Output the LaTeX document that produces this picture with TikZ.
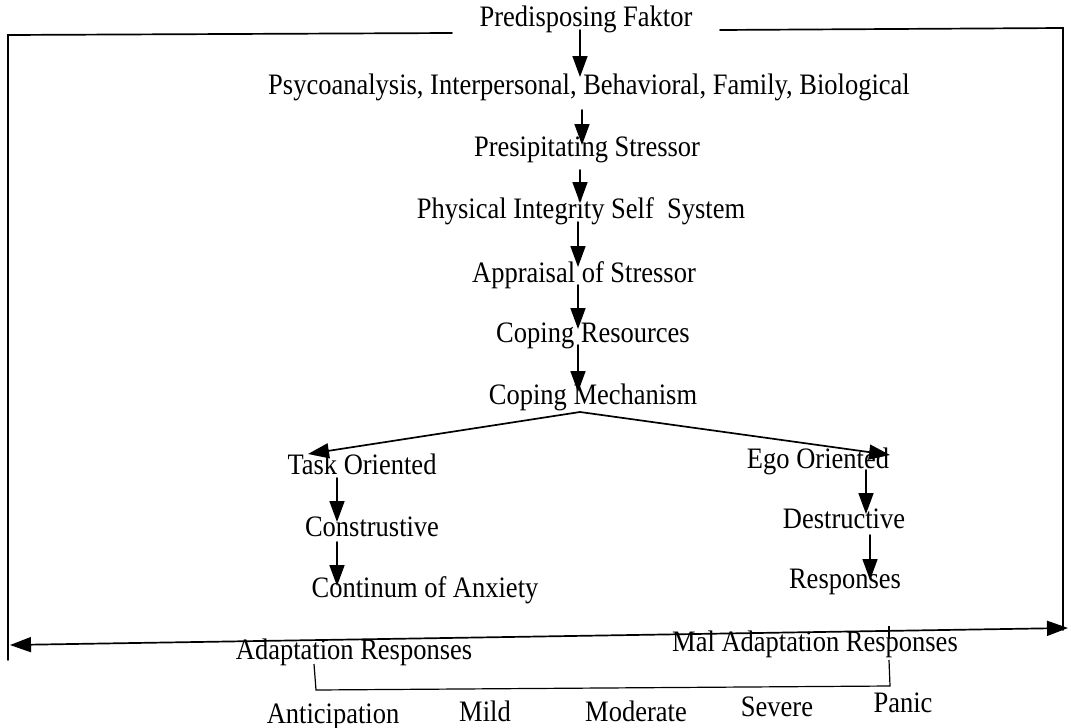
\documentclass[tikz,border=0pt]{standalone}
\usepackage{fontspec}
\setmainfont{Liberation Serif}
\usetikzlibrary{arrows.meta}
\newcommand{\tx}[1]{\scalebox{1}[1.12]{#1}}
\begin{document}
\begin{tikzpicture}[x=1pt,y=-1pt,
  lbl/.style={inner sep=1pt, font=\fontsize{26.5}{30}\selectfont},
  ln/.style={line width=1.7pt, line cap=round},
  arr/.style={ln, -{Triangle[length=21pt,width=15pt]}},
  darr/.style={ln, {Triangle[length=21pt,width=15pt]}-{Triangle[length=21pt,width=15pt]}}]
\useasboundingbox (0,0) rectangle (1071,728);
% text nodes
\node[lbl] (pf)   at (586,19)  {\tx{Predisposing Faktor}};
\node[lbl] (psy)  at (589,87)  {\tx{Psycoanalysis, Interpersonal, Behavioral, Family, Biological}};
\node[lbl] (ps)   at (587,150) {\tx{Presipitating Stressor}};
\node[lbl] (pis)  at (581,211) {\tx{Physical Integrity Self~ System}};
\node[lbl] (aos)  at (584,275) {\tx{Appraisal of Stressor}};
\node[lbl] (cr)   at (593,336) {\tx{Coping Resources}};
\node[lbl] (cm)   at (593,397) {\tx{Coping Mechanism}};
\node[lbl] (to)   at (362,464) {\tx{Task Oriented}};
\node[lbl] (eo)   at (818,461) {\tx{Ego Oriented}};
\node[lbl] (con)  at (372,527) {\tx{Construstive}};
\node[lbl] (coa)  at (425,590) {\tx{Continum of Anxiety}};
\node[lbl] (des)  at (844,519) {\tx{Destructive}};
\node[lbl] (res)  at (845,582) {\tx{Responses}};
\node[lbl] (ar)   at (354,652) {\tx{Adaptation Responses}};
\node[lbl] (mar)  at (815,644) {\tx{Mal Adaptation Responses}};
\node[lbl] (ant)  at (333,717) {\tx{Anticipation}};
\node[lbl] (mild) at (485,711) {\tx{Mild}};
\node[lbl] (mod)  at (636,711) {\tx{Moderate}};
\node[lbl] (sev)  at (777,707) {\tx{Severe}};
\node[lbl] (pan)  at (903,703) {\tx{Panic}};
% frame
\coordinate (tl) at (8,35);
\coordinate (tlm) at (452,33);
\coordinate (trm) at (720,30);
\coordinate (tr) at (1063,28);
\coordinate (bl) at (8,660);
\coordinate (br) at (1063,630);
\draw[ln] (tlm) -- (tl) -- (bl);
\draw[ln] (trm) -- (tr) -- (br);
% main double arrow
\coordinate (al) at (10,645);
\coordinate (arr) at (1068,628);
\draw[darr] (al) -- (arr);
% vertical chain
\coordinate (a1s) at (580,30);  \coordinate (a1e) at (580,77);
\coordinate (a2s) at (582,110); \coordinate (a2e) at (582,145);
\coordinate (a3s) at (580,170); \coordinate (a3e) at (580,203);
\coordinate (a4s) at (578,222); \coordinate (a4e) at (578,267);
\coordinate (a5s) at (578,285); \coordinate (a5e) at (578,329);
\coordinate (a6s) at (578,345); \coordinate (a6e) at (578,392);
\draw[arr] (a1s) -- (a1e);
\draw[arr] (a2s) -- (a2e);
\draw[arr] (a3s) -- (a3e);
\draw[arr] (a4s) -- (a4e);
\draw[arr] (a5s) -- (a5e);
\draw[arr] (a6s) -- (a6e);
% branch
\coordinate (fork) at (580,412);
\coordinate (toe) at (308,454);
\coordinate (eoe) at (890,455);
\draw[arr] (fork) -- (toe);
\draw[arr] (fork) -- (eoe);
% left column
\coordinate (b1s) at (337,478); \coordinate (b1e) at (337,522);
\coordinate (b2s) at (337,542); \coordinate (b2e) at (337,586);
\draw[arr] (b1s) -- (b1e);
\draw[arr] (b2s) -- (b2e);
% right column
\coordinate (c1s) at (866,470); \coordinate (c1e) at (866,514);
\coordinate (c2s) at (870,535); \coordinate (c2e) at (870,580);
\draw[arr] (c1s) -- (c1e);
\draw[arr] (c2s) -- (c2e);
% bracket
\coordinate (k1) at (314,664);
\coordinate (k2) at (316,690);
\coordinate (k3) at (890,686);
\coordinate (k4) at (889,660);
\coordinate (k5) at (889,626);
\coordinate (k6) at (889,638);
\draw[line width=1.2pt] (k1) -- (k2) -- (k3) -- (k4);
\draw[line width=1.2pt] (k5) -- (k6);
\end{tikzpicture}
\end{document}
